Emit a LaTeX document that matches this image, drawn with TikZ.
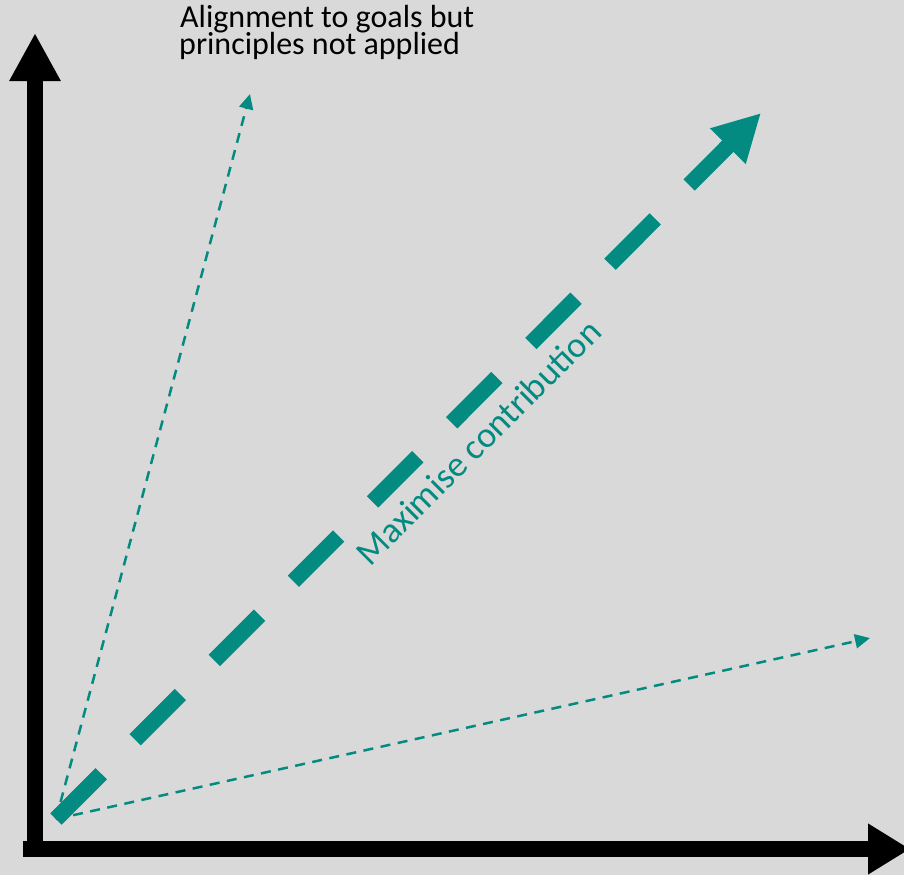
\documentclass[tikz,border=0pt]{standalone}
\usepackage{fontspec}
\setmainfont{Carlito}
\usetikzlibrary{arrows.meta}
\definecolor{bgc}{RGB}{217,217,217}
\definecolor{tealc}{RGB}{4,139,129}
\begin{document}
\begin{tikzpicture}[x=1pt,y=-1pt,
  axis/.style={line width=16pt, black},
  thinarrow/.style={tealc, line width=2.5pt, dash pattern=on 10pt off 7.5pt, -{Triangle[length=15pt,width=14pt]}},
  bigarrow/.style={tealc, line width=16pt, dash pattern=on 64pt off 48pt, -{Triangle[length=47pt,width=47pt]}},
  lbl/.style={anchor=base west, inner sep=0pt, font=\fontsize{32}{27}\selectfont}]
\fill[bgc] (0,0) rectangle (904,875);
\useasboundingbox (0,0) rectangle (904,875);
\coordinate (yb) at (35,857);
\coordinate (yt) at (35,33);
\coordinate (xl) at (23,849);
\coordinate (xr) at (910,849);
\coordinate (o) at (56,819);
\coordinate (big) at (761,113);
\coordinate (up) at (250,94);
\coordinate (low) at (870,638);
\draw[axis,-{Triangle[length=48pt,width=48pt]}] (yb) -- (yt);
\draw[axis,-{Triangle[length=42pt,width=48pt]}] (xl) -- (xr);
\draw[thinarrow] (o) -- (up);
\draw[thinarrow] (o) -- (low);
\draw[bigarrow] (o) -- (big);
\node[tealc, rotate=45, anchor=base, inner sep=0pt, font=\fontsize{36}{40}\selectfont] (mc) at (487,451) {Maximise contribution};
\node[lbl] (t1) at (180,28) {Alignment to goals but};
\node[lbl] (t2) at (179,55) {principles not applied};
\end{tikzpicture}
\end{document}
